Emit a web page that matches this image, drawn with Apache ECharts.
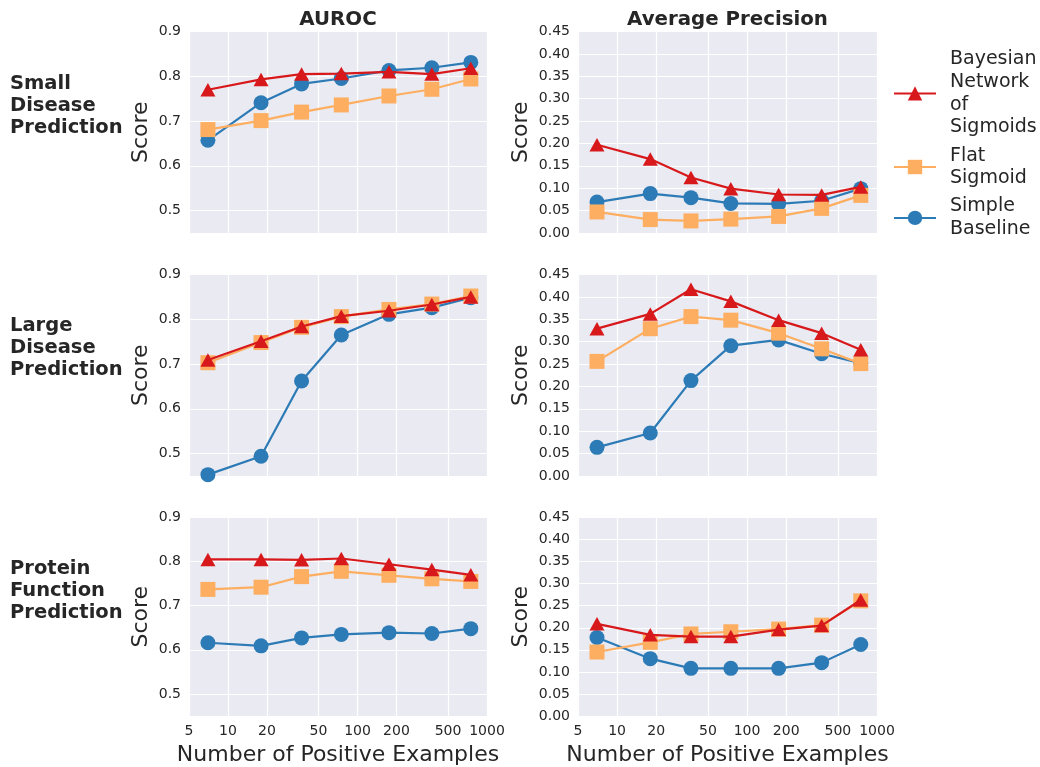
<!DOCTYPE html>
<html>
<head>
<meta charset="utf-8">
<script src="https://cdn.jsdelivr.net/npm/echarts@6/dist/echarts.min.js"></script>
<style>
html,body{margin:0;padding:0;background:#fff;}
#chart{width:1040px;height:767px;}
</style>
</head>
<body>
<div id="chart"></div>
<script>
// ---- data ----
const xs = [7, 18, 37, 75, 175, 375, 750];
const xTicks = [5, 10, 20, 50, 100, 200, 500, 1000];
const seriesNames = ['Bayesian\nNetwork\nof\nSigmoids', 'Flat\nSigmoid', 'Simple\nBaseline'];
const columnTitles = ['AUROC', 'Average Precision'];
const rowTitles = ['Small\nDisease\nPrediction', 'Large\nDisease\nPrediction', 'Protein\nFunction\nPrediction'];

const smallAurocBN   = [0.770, 0.793, 0.805, 0.806, 0.810, 0.805, 0.818];
const smallAurocFlat = [0.681, 0.701, 0.720, 0.736, 0.756, 0.771, 0.794];
const smallAurocBase = [0.657, 0.741, 0.783, 0.795, 0.813, 0.819, 0.831];
const smallApBN      = [0.197, 0.165, 0.124, 0.099, 0.086, 0.085, 0.103];
const smallApFlat    = [0.047, 0.030, 0.027, 0.031, 0.037, 0.055, 0.084];
const smallApBase    = [0.069, 0.088, 0.079, 0.066, 0.065, 0.072, 0.099];

const largeAurocBN   = [0.709, 0.751, 0.784, 0.807, 0.819, 0.833, 0.850];
const largeAurocFlat = [0.703, 0.748, 0.782, 0.806, 0.822, 0.834, 0.852];
const largeAurocBase = [0.453, 0.494, 0.662, 0.765, 0.811, 0.826, 0.848];
const largeApBN      = [0.329, 0.362, 0.417, 0.390, 0.348, 0.319, 0.282];
const largeApFlat    = [0.256, 0.329, 0.356, 0.348, 0.319, 0.284, 0.251];
const largeApBase    = [0.064, 0.096, 0.213, 0.291, 0.304, 0.273, 0.252];

const protAurocBN    = [0.805, 0.805, 0.804, 0.807, 0.794, 0.782, 0.770];
const protAurocFlat  = [0.737, 0.742, 0.766, 0.778, 0.769, 0.761, 0.755];
const protAurocBase  = [0.616, 0.609, 0.627, 0.635, 0.639, 0.637, 0.648];
const protApBN       = [0.209, 0.184, 0.180, 0.180, 0.196, 0.205, 0.263];
const protApFlat     = [0.145, 0.167, 0.186, 0.191, 0.197, 0.206, 0.261];
const protApBase     = [0.178, 0.130, 0.108, 0.108, 0.108, 0.121, 0.162];

// ---- layout / style ----
const FONT = 'DejaVu Sans';
const TXT = '#262626';
const colors = ['#d7191c', '#fdae61', '#2c7bb6'];
const symbols = ['triangle', 'rect', 'circle'];
const symSizes = [[15, 13.5], 15, 15];
const zs = [4, 3, 2];

const panels = [
  [[smallAurocBN, smallAurocFlat, smallAurocBase], [smallApBN, smallApFlat, smallApBase]],
  [[largeAurocBN, largeAurocFlat, largeAurocBase], [largeApBN, largeApFlat, largeApBase]],
  [[protAurocBN, protAurocFlat, protAurocBase], [protApBN, protApFlat, protApBase]]
];

const rowTops = [31.5, 274.5, 517.5];
const colLefts = [189, 578];
const colWidths = [298, 299];
const H = 201.5;

const grids = [], xAxes = [], yAxes = [], series = [];
let gi = 0;
for (let r = 0; r < 3; r++) {
  for (let c = 0; c < 2; c++) {
    grids.push({
      left: colLefts[c], top: rowTops[r], width: colWidths[c], height: H,
      show: true, backgroundColor: '#EAEAF2', borderWidth: 0, containLabel: false
    });
    const bottom = r === 2;
    xAxes.push({
      type: 'log', logBase: 10, gridIndex: gi, min: 5, max: 1000,
      axisLine: {show: false},
      axisTick: {show: false, customValues: xTicks},
      splitLine: {show: true, lineStyle: {color: '#ffffff', width: 1.2}},
      axisLabel: {show: bottom, customValues: xTicks, color: TXT, fontFamily: FONT, fontSize: 14, margin: 8,
                  formatter: v => String(Math.round(v))},
      name: bottom ? 'Number of Positive Examples' : '',
      nameLocation: 'middle', nameGap: 28,
      nameTextStyle: {color: TXT, fontFamily: FONT, fontSize: 22}
    });
    if (c === 0) {
      yAxes.push({
        type: 'value', gridIndex: gi, min: 0.45, max: 0.9, splitNumber: 5,
        axisLine: {show: false}, axisTick: {show: false},
        splitLine: {show: true, lineStyle: {color: '#ffffff', width: 1.2}},
        axisLabel: {color: TXT, fontFamily: FONT, fontSize: 14, margin: 8, showMinLabel: false,
                    formatter: v => v.toFixed(1)},
        name: 'Score', nameLocation: 'middle', nameGap: 37, nameRotate: 90,
        nameTextStyle: {color: TXT, fontFamily: FONT, fontSize: 22}
      });
    } else {
      yAxes.push({
        type: 'value', gridIndex: gi, min: 0, max: 0.45, interval: 0.05,
        axisLine: {show: false}, axisTick: {show: false},
        splitLine: {show: true, lineStyle: {color: '#ffffff', width: 1.2}},
        axisLabel: {color: TXT, fontFamily: FONT, fontSize: 14, margin: 8,
                    formatter: v => v.toFixed(2)},
        name: 'Score', nameLocation: 'middle', nameGap: 46, nameRotate: 90,
        nameTextStyle: {color: TXT, fontFamily: FONT, fontSize: 22}
      });
    }
    for (let s = 0; s < 3; s++) {
      const vals = panels[r][c][s];
      series.push({
        type: 'line', name: seriesNames[s], xAxisIndex: gi, yAxisIndex: gi,
        data: xs.map((x, i) => [x, vals[i]]),
        symbol: symbols[s], symbolSize: symSizes[s], showSymbol: true,
        z: zs[s], animation: false,
        lineStyle: {color: colors[s], width: 2.2},
        itemStyle: {color: colors[s], borderWidth: 0}
      });
    }
    gi++;
  }
}

const graphics = [];
columnTitles.forEach((t, c) => {
  graphics.push({type: 'text', x: colLefts[c] + colWidths[c] / 2, y: 20,
    style: {text: t, font: 'bold 19.8px "DejaVu Sans"', fill: TXT, textAlign: 'center', textVerticalAlign: 'middle'}});
});
const rowLabelCenters = [106, 348, 591];
rowTitles.forEach((t, r) => {
  graphics.push({type: 'text', x: 10, y: rowLabelCenters[r],
    style: {text: t, font: 'bold 19.5px "DejaVu Sans"', fill: TXT, textAlign: 'left', textVerticalAlign: 'middle', lineHeight: 22}});
});

const chart = echarts.init(document.getElementById('chart'), null, {renderer: 'canvas'});
chart.setOption({
  animation: false,
  backgroundColor: '#ffffff',
  grid: grids, xAxis: xAxes, yAxis: yAxes, series: series,
  legend: {
    data: seriesNames, orient: 'vertical', left: 893, top: 48, padding: 0,
    itemWidth: 42, itemHeight: 18, itemGap: 5.5,
    textStyle: {color: TXT, fontFamily: FONT, fontSize: 19, lineHeight: 22.7, padding: [0, 0, 0, 9]},
    selectedMode: false
  },
  graphic: graphics
});
</script>
</body>
</html>
